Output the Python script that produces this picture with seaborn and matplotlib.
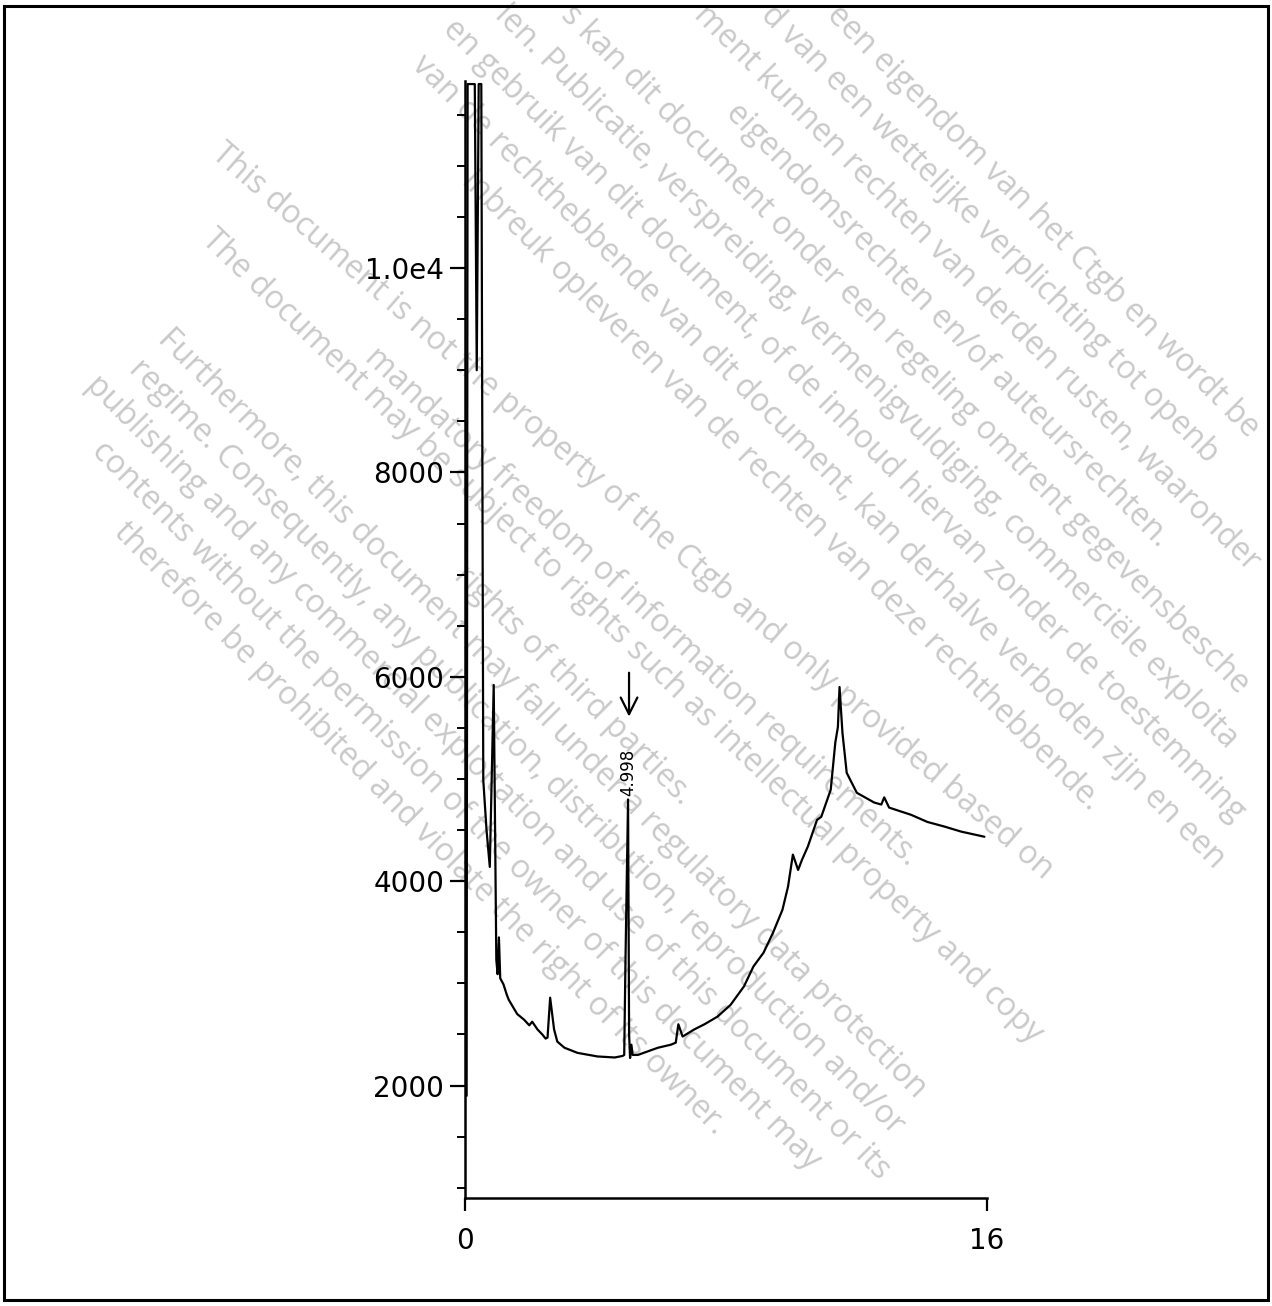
import numpy as np
import pandas as pd
import matplotlib
matplotlib.use("Agg")
import matplotlib.pyplot as plt
import seaborn as sns
from matplotlib.patches import Rectangle
from matplotlib.ticker import MultipleLocator

# ---------------- data ----------------
time_min = [0.05, 0.08, 0.30, 0.36, 0.42, 0.50, 0.56, 0.66, 0.76, 0.88,
            0.96, 1.00, 1.04, 1.08, 1.18, 1.28, 1.34, 1.60, 1.81, 1.97,
            2.06, 2.22, 2.37, 2.47, 2.53, 2.61, 2.73, 2.83, 3.05, 3.45,
            4.06, 4.59, 4.83, 4.88, 4.92, 4.998, 5.03, 5.06, 5.10, 5.14,
            5.30, 5.91, 6.31, 6.46, 6.54, 6.67, 7.03, 7.34, 7.74, 8.14,
            8.55, 8.84, 9.15, 9.44, 9.73, 9.90, 10.05, 10.21, 10.33, 10.51,
            10.79, 10.92, 11.21, 11.35, 11.43, 11.48, 11.57, 11.70, 12.01, 12.54,
            12.76, 12.85, 13.00, 13.67, 14.17, 14.69, 15.21, 15.92]
counts = [1900, 11800, 11800, 9000, 11800, 11800, 4990, 4500, 4140, 5920,
          3230, 3090, 3450, 3050, 2990, 2890, 2840, 2700, 2645, 2590,
          2625, 2550, 2500, 2460, 2470, 2860, 2550, 2430, 2370, 2320,
          2285, 2275, 2290, 2300, 3250, 4800, 2500, 2270, 2400, 2300,
          2300, 2370, 2400, 2420, 2600, 2480, 2550, 2600, 2675, 2790,
          2970, 3165, 3300, 3495, 3720, 3945, 4260, 4110, 4210, 4340,
          4600, 4630, 4895, 5355, 5510, 5900, 5450, 5060, 4865, 4770,
          4750, 4820, 4720, 4650, 4580, 4535, 4485, 4435]

y_major_ticks = [2000, 4000, 6000, 8000, 10000]
y_major_labels = ["2000", "4000", "6000", "8000", "1.0e4"]
x_ticks = [0, 16]
x_labels = ["0", "16"]
peak_time = 4.998
peak_height = 4800
peak_label = "4.998"

watermark_en = [
    "This document is not the property of the Ctgb and only provided based on",
    "mandatory freedom of information requirements.",
    "The document may be subject to rights such as intellectual property and copy",
    "rights of third parties.",
    "Furthermore, this document may fall under a regulatory data protection",
    "regime. Consequently, any publication, distribution, reproduction and/or",
    "publishing and any commercial exploitation and use of this document or its",
    "contents without the permission of the owner of this document may",
    "therefore be prohibited and violate the right of its owner.",
]
watermark_nl = [
    "inbreuk opleveren van de rechten van deze rechthebbende.",
    "van de rechthebbende van dit document, kan derhalve verboden zijn en een",
    "en gebruik van dit document, of de inhoud hiervan zonder de toestemming",
    "len. Publicatie, verspreiding, vermenigvuldiging, commerciële exploita",
    "s kan dit document onder een regeling omtrent gegevensbesche",
    "eigendomsrechten en/of auteursrechten.",
    "ment kunnen rechten van derden rusten, waaronder",
    "d van een wettelijke verplichting tot openb",
    "een eigendom van het Ctgb en wordt be",
]

# ---------------- figure ----------------
W, H = 1272, 1306
sns.set_style("ticks")
plt.rcParams['font.family'] = ['DejaVu Sans']

fig = plt.figure(figsize=(W / 100, H / 100), dpi=100)
fig.patch.set_facecolor("white")

# watermark (behind the plot)
ANG = 45
ang = np.deg2rad(ANG)
dvec = np.array([np.cos(ang), np.sin(ang)])
nvec = np.array([np.sin(ang), -np.cos(ang)])
WM = dict(fontsize=23, color='#c9c9c9', family=['Open Sans', 'DejaVu Sans'],
          zorder=-1, rotation_mode='anchor', va='center')


def put_px(text, px, py, angle, ha):
    fig.text(px / W, 1 - py / H, text, rotation=-angle, ha=ha, **WM)


def put_wm(text, s, t, ha):
    px, py = t * dvec + s * nvec
    put_px(text, px, py, ANG, ha)


# first English lines: centre pixel and angle read directly
en_override = {0: (632, 512, 41.0), 1: (642, 607, 43.0), 2: (622, 637, 44.0)}
en_centers = [815, 885, 890, 890, 888, 893, 895, 892, 883]
for k, line in enumerate(watermark_en):
    if k in en_override:
        cx, cy, a = en_override[k]
        put_px(line, cx, cy, a, 'center')
    else:
        put_wm(line, 47 - 42 * k, en_centers[k], 'center')

nl_centers = {0: 900, 1: 905, 2: 894, 5: 900}
for k, line in enumerate(watermark_nl):
    s = 205 + 47 * k
    if k in nl_centers:
        put_wm(line, s, nl_centers[k], 'center')
    else:
        t0 = (10 + np.cos(ang) * s) / np.sin(ang)
        put_wm(line, s, t0, 'left')

# scan frame
fig.patches.append(Rectangle((4 / W, 6 / H), 1264 / W, 1294 / H, transform=fig.transFigure,
                             fill=False, edgecolor='black', linewidth=2.2, zorder=5))

ax = fig.add_axes([465 / W, (H - 1198) / H, (987 - 465) / W, (1198 - 81) / H])
ax.patch.set_alpha(0)

df = pd.DataFrame({"time": time_min, "counts": counts})
sns.lineplot(data=df, x="time", y="counts", ax=ax, color="black", lw=1.6,
             sort=False, estimator=None)

ax.set_xlim(0, 16)
ax.set_ylim(900, 11830)
ax.set_xlabel("")
ax.set_ylabel("")

for side in ["top", "right"]:
    ax.spines[side].set_visible(False)
for side in ["left", "bottom"]:
    ax.spines[side].set_color("black")
    ax.spines[side].set_linewidth(1.8)

ax.set_yticks(y_major_ticks)
ax.set_yticklabels(y_major_labels)
ax.yaxis.set_minor_locator(MultipleLocator(500))
ax.set_xticks(x_ticks)
ax.set_xticklabels(x_labels)

ax.tick_params(axis='y', which='major', direction='out', length=11, width=1.6,
               pad=4, labelsize=20, colors='black', left=True)
ax.tick_params(axis='y', which='minor', direction='out', length=6, width=1.4,
               colors='black', left=True)
ax.tick_params(axis='x', which='major', direction='out', length=9, width=1.6,
               pad=12, labelsize=20, colors='black', bottom=True)

# peak label and arrow
ax.text(peak_time, peak_height + 30, peak_label, rotation=90, ha='center',
        va='bottom', fontsize=12, color='black')
ax.annotate('', xy=(peak_time + 0.03, 5610), xytext=(peak_time + 0.03, 6040),
            arrowprops=dict(arrowstyle='->', color='black', lw=1.6,
                            mutation_scale=30, shrinkA=0, shrinkB=0))

fig.savefig("out.png", dpi=100)
